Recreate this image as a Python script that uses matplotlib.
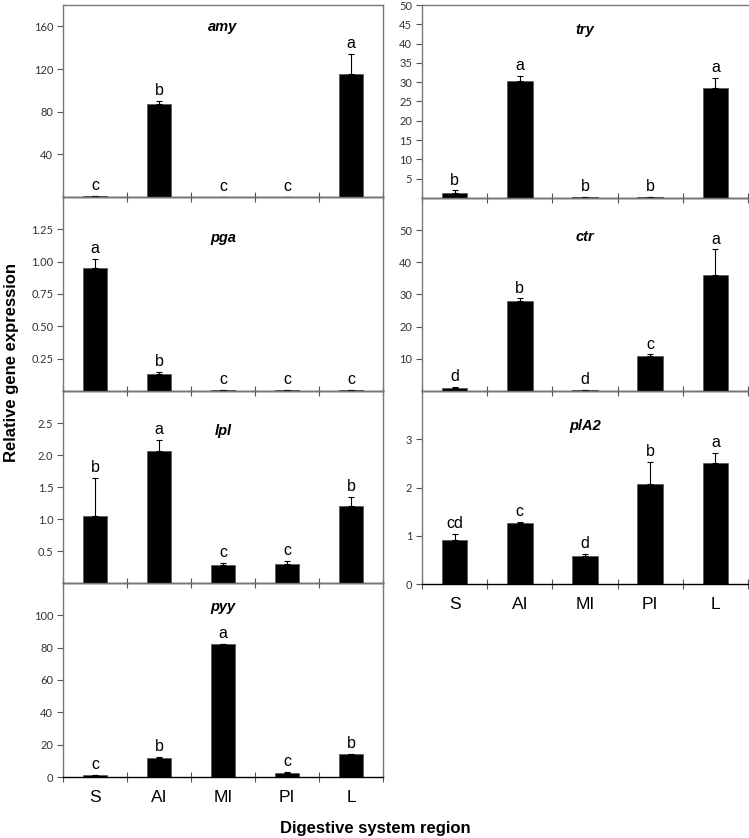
import matplotlib
matplotlib.use("Agg")
import matplotlib.pyplot as plt
import numpy as np

categories = ["S", "AI", "MI", "PI", "L"]

amy_mean = [1.0, 87, 0.3, 0.3, 115]
amy_err = [0.3, 3, 0.1, 0.1, 19]
amy_letters = ["c", "b", "c", "c", "a"]

try_mean = [1.3, 30.4, 0.2, 0.2, 28.5]
try_err = [0.7, 1.3, 0.05, 0.05, 2.7]
try_letters = ["b", "a", "b", "b", "a"]

pga_mean = [0.95, 0.135, 0.006, 0.006, 0.006]
pga_err = [0.07, 0.015, 0.002, 0.002, 0.002]
pga_letters = ["a", "b", "c", "c", "c"]

ctr_mean = [1.0, 28.0, 0.3, 10.8, 36.2]
ctr_err = [0.3, 0.8, 0.1, 0.6, 7.8]
ctr_letters = ["d", "b", "d", "c", "a"]

lpl_mean = [1.05, 2.07, 0.28, 0.29, 1.21]
lpl_err = [0.59, 0.17, 0.03, 0.05, 0.14]
lpl_letters = ["b", "a", "c", "c", "b"]

pla2_mean = [0.91, 1.26, 0.57, 2.07, 2.51]
pla2_err = [0.13, 0.02, 0.05, 0.46, 0.21]
pla2_letters = ["cd", "c", "d", "b", "a"]

pyy_mean = [1.2, 12.0, 82.0, 2.5, 14.0]
pyy_err = [0.2, 0.5, 0.3, 0.5, 0.5]
pyy_letters = ["c", "b", "a", "c", "b"]

W, H = 749, 838
fig = plt.figure(figsize=(W / 100, H / 100), dpi=100)

def rect(x0, x1, ytop, ybot):
    return [x0 / W, 1 - ybot / H, (x1 - x0) / W, (ybot - ytop) / H]

LX0, LX1 = 63, 383
RX0, RX1 = 422, 748

panels = [
    # name, mean, err, letters, rect, ylim, yticks, fmt, title_y, xlabels, right column
    ("amy", amy_mean, amy_err, amy_letters, rect(LX0, LX1, 5, 197), 180,
     [40, 80, 120, 160], "{:.0f}", 0.885, False, False),
    ("pga", pga_mean, pga_err, pga_letters, rect(LX0, LX1, 197, 391), 1.5,
     [0.25, 0.5, 0.75, 1.0, 1.25], "{:.2f}", 0.79, False, False),
    ("lpl", lpl_mean, lpl_err, lpl_letters, rect(LX0, LX1, 391, 583), 3.0,
     [0.5, 1.0, 1.5, 2.0, 2.5], "{:.1f}", 0.79, False, False),
    ("pyy", pyy_mean, pyy_err, pyy_letters, rect(LX0, LX1, 583, 777), 120,
     [0, 20, 40, 60, 80, 100], "{:.0f}", 0.876, True, False),
    ("try", try_mean, try_err, try_letters, rect(RX0, RX1, 5, 198), 50,
     list(range(5, 55, 5)), "{:.0f}", 0.87, False, True),
    ("ctr", ctr_mean, ctr_err, ctr_letters, rect(RX0, RX1, 198, 391), 60,
     [10, 20, 30, 40, 50], "{:.0f}", 0.80, False, True),
    ("plA2", pla2_mean, pla2_err, pla2_letters, rect(RX0, RX1, 391, 584), 4,
     [0, 1, 2, 3], "{:.0f}", 0.82, True, True),
]

x = np.arange(len(categories))
for name, mean, err, letters, r, ymax, yticks, fmt, ty, showx, rightcol in panels:
    ax = fig.add_axes(r)
    ax.set_facecolor("none")
    ax.bar(x, mean, width=0.39, color="black", edgecolor="#555555", linewidth=0.5, zorder=2)
    ax.errorbar(x, mean, yerr=[np.zeros(len(mean)), err], fmt="none",
                ecolor="black", elinewidth=0.8, capsize=2.5, capthick=0.8, zorder=3)
    for xi, m, e, lab in zip(x, mean, err, letters):
        ax.annotate(lab, (xi, m + e), xytext=(0, 2), textcoords="offset points",
                    ha="center", va="bottom", fontsize=11.5, family="Liberation Sans")
    ax.set_xlim(-0.5, 4.5)
    ax.set_ylim(0, ymax)
    ax.set_yticks(yticks)
    ax.set_yticklabels([fmt.format(v) for v in yticks], fontsize=8, family="Lato", color="#333333")
    ax.tick_params(axis="y", direction="out", length=4, width=0.8, color="#555555", pad=3)
    ax.set_xticks(np.arange(-0.5, 5, 1.0))
    ax.set_xticklabels([])
    ax.tick_params(axis="x", direction="inout", length=7, width=0.8, color="#555555")
    if showx:
        ax.set_xticks(x, minor=True)
        ax.set_xticklabels(categories, minor=True, fontsize=12.5, family="Liberation Sans")
        ax.tick_params(axis="x", which="minor", length=0, pad=9)
    for s in ["left", "right", "top"]:
        ax.spines[s].set_color("#777777")
        ax.spines[s].set_linewidth(1.0)
    if rightcol:
        ax.spines["right"].set_visible(False)
    ax.spines["bottom"].set_color("black")
    ax.spines["bottom"].set_linewidth(1.0)
    ax.spines["bottom"].set_zorder(4)
    ax.text(0.5, ty, name, transform=ax.transAxes, ha="center", va="center",
            fontsize=10.5, fontweight="bold", fontstyle="italic", family="Liberation Sans")

fig.text(12 / W, 1 - 362 / H, "Relative gene expression", rotation=90, ha="center",
         va="center", fontsize=12, fontweight="bold", family="Liberation Sans")
fig.text(375 / W, 1 - 828 / H, "Digestive system region", ha="center", va="center",
         fontsize=12, fontweight="bold", family="Liberation Sans")

fig.savefig("out.png", dpi=100)
